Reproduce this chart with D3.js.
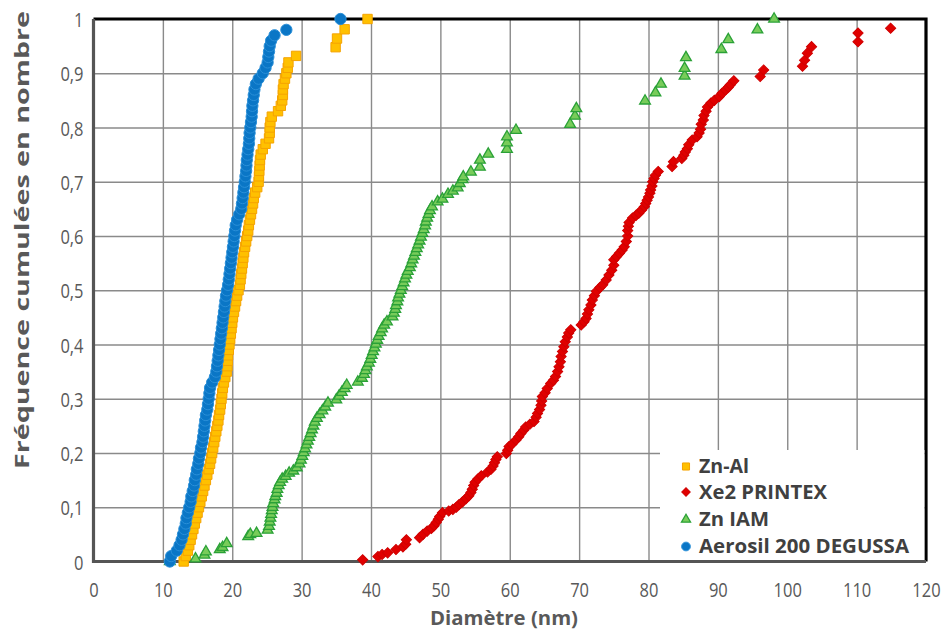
<!DOCTYPE html>
<html><head><meta charset="utf-8">
<script src="https://cdn.jsdelivr.net/npm/d3@7"></script>
<style>
html,body{margin:0;padding:0;background:#fff;}
svg{display:block;}
text{font-family:"Open Sans", Lato, sans-serif;}
</style></head>
<body>
<svg id="chart" width="947" height="633"></svg>
<script>
// ---- DATA: [diameter (nm), cumulative frequency] ----
const seriesNames = ["Zn-Al", "Xe2 PRINTEX", "Zn IAM", "Aerosil 200 DEGUSSA"];

const znAl = [[13.0,0],[13.3,0.01],[13.6,0.02],[13.8,0.03],[14.0,0.04],[14.2,0.05],[14.4,0.06],[14.6,0.07],[14.8,0.08],[15.0,0.09],[15.2,0.10],[15.4,0.11],[15.6,0.12],[15.8,0.13],[16.0,0.14],[16.2,0.15],[16.4,0.16],[16.6,0.17],[16.8,0.18],[16.95,0.19],[17.1,0.20],[17.25,0.21],[17.4,0.22],[17.55,0.23],[17.7,0.24],[17.85,0.25],[18.0,0.26],[18.1,0.27],[18.25,0.28],[18.35,0.29],[18.45,0.30],[18.55,0.31],[18.65,0.32],[18.8,0.33],[19.0,0.34],[19.2,0.35],[19.3,0.36],[19.35,0.37],[19.4,0.38],[19.5,0.39],[19.6,0.40],[19.7,0.41],[19.8,0.42],[19.9,0.43],[20.0,0.44],[20.1,0.45],[20.25,0.46],[20.4,0.47],[20.55,0.48],[20.7,0.49],[20.9,0.50],[21.1,0.51],[21.2,0.52],[21.3,0.53],[21.4,0.54],[21.5,0.55],[21.6,0.56],[21.7,0.57],[21.85,0.58],[22.0,0.59],[22.15,0.60],[22.3,0.61],[22.4,0.62],[22.55,0.63],[22.7,0.64],[22.85,0.65],[23.0,0.66],[23.1,0.67],[23.3,0.68],[23.6,0.69],[23.8,0.70],[23.85,0.71],[23.9,0.72],[23.95,0.73],[24.0,0.74],[24.1,0.75],[24.4,0.76],[24.8,0.77],[25.3,0.78],[25.4,0.79],[25.4,0.80],[25.5,0.81],[25.7,0.82],[26.6,0.83],[27.0,0.84],[27.2,0.85],[27.3,0.86],[27.3,0.87],[27.4,0.88],[27.6,0.89],[27.8,0.90],[28.0,0.91],[28.1,0.92],[29.2,0.932],[34.9,0.948],[35.1,0.964],[36.2,0.981],[39.5,1.0]];

const xe2 = [[38.8,0.003],[41.0,0.009],[41.6,0.013],[42.4,0.016],[43.6,0.022],[44.6,0.027],[45.0,0.032],[45.1,0.04],[47.0,0.044],[47.5,0.05],[48.1,0.056],[48.7,0.061],[49.1,0.066],[49.4,0.072],[49.7,0.078],[49.9,0.083],[50.3,0.09],[51.2,0.093],[51.8,0.096],[52.3,0.1],[52.7,0.105],[53.2,0.11],[53.7,0.116],[54.1,0.121],[54.4,0.127],[54.6,0.133],[54.8,0.14],[55.0,0.146],[55.4,0.152],[55.9,0.158],[56.8,0.165],[57.3,0.17],[57.6,0.176],[57.8,0.182],[58.0,0.188],[58.2,0.193],[59.5,0.199],[59.7,0.205],[59.9,0.212],[60.3,0.216],[60.9,0.224],[61.3,0.23],[61.6,0.236],[62.0,0.242],[62.3,0.248],[62.9,0.253],[63.5,0.258],[63.8,0.266],[64.0,0.273],[64.3,0.28],[64.5,0.288],[64.6,0.296],[64.7,0.304],[65.1,0.311],[65.4,0.319],[65.9,0.328],[66.3,0.334],[66.6,0.341],[66.9,0.35],[67.1,0.359],[67.3,0.368],[67.4,0.378],[67.6,0.387],[67.8,0.396],[68.0,0.405],[68.3,0.414],[68.5,0.421],[68.8,0.427],[70.3,0.436],[70.7,0.442],[71.0,0.448],[71.2,0.456],[71.4,0.464],[71.7,0.473],[71.9,0.482],[72.2,0.49],[72.5,0.498],[73.0,0.505],[73.4,0.51],[73.9,0.519],[74.3,0.528],[74.7,0.537],[75.0,0.546],[75.0,0.556],[75.4,0.562],[75.8,0.568],[76.2,0.574],[76.5,0.58],[76.8,0.59],[77.0,0.6],[77.0,0.61],[77.1,0.618],[77.2,0.625],[77.7,0.633],[78.2,0.638],[78.6,0.642],[79.0,0.648],[79.4,0.654],[79.6,0.66],[79.8,0.666],[80.0,0.672],[80.2,0.679],[80.3,0.685],[80.5,0.692],[80.6,0.7],[80.8,0.706],[81.0,0.712],[81.4,0.719],[83.4,0.728],[83.6,0.737],[84.8,0.743],[85.1,0.749],[85.3,0.755],[85.6,0.761],[85.8,0.768],[86.3,0.777],[87.0,0.783],[87.3,0.79],[87.5,0.797],[87.6,0.806],[87.9,0.814],[88.0,0.822],[88.3,0.83],[88.5,0.838],[89.0,0.845],[89.5,0.85],[90.2,0.857],[90.6,0.863],[91.1,0.869],[91.5,0.874],[91.8,0.879],[92.3,0.886],[96.1,0.894],[96.6,0.906],[102.2,0.913],[102.5,0.924],[102.9,0.937],[103.5,0.949],[110.2,0.958],[110.2,0.974],[114.9,0.983]];

const znIAM = [[11.0,0.0],[14.7,0.005],[16.0,0.012],[16.2,0.018],[18.2,0.022],[18.6,0.026],[19.2,0.033],[22.3,0.046],[22.6,0.05],[23.5,0.052],[25.1,0.058],[25.3,0.065],[25.4,0.073],[25.5,0.08],[25.6,0.087],[25.7,0.094],[25.8,0.10],[25.9,0.107],[26.1,0.114],[26.2,0.12],[26.4,0.126],[26.5,0.133],[26.7,0.14],[26.9,0.146],[27.2,0.152],[27.7,0.157],[28.2,0.163],[28.8,0.167],[29.3,0.173],[29.7,0.18],[29.9,0.187],[30.1,0.194],[30.3,0.201],[30.5,0.208],[30.7,0.215],[30.9,0.222],[31.1,0.229],[31.3,0.236],[31.5,0.243],[31.7,0.25],[31.9,0.257],[32.2,0.264],[32.6,0.271],[33.0,0.278],[33.4,0.285],[33.8,0.292],[35.0,0.298],[35.4,0.305],[35.8,0.312],[36.2,0.319],[36.5,0.325],[38.1,0.331],[38.7,0.338],[39.0,0.345],[39.2,0.352],[39.4,0.359],[39.7,0.366],[39.9,0.373],[40.1,0.38],[40.3,0.387],[40.5,0.394],[40.7,0.401],[40.9,0.408],[41.1,0.415],[41.4,0.422],[41.6,0.429],[41.9,0.436],[42.3,0.442],[43.1,0.451],[43.3,0.458],[43.5,0.465],[43.6,0.472],[43.8,0.479],[43.9,0.486],[44.1,0.493],[44.3,0.50],[44.5,0.507],[44.7,0.514],[44.9,0.521],[45.1,0.528],[45.3,0.535],[45.6,0.542],[45.8,0.549],[46.0,0.556],[46.2,0.563],[46.4,0.57],[46.6,0.577],[46.8,0.584],[47.0,0.591],[47.2,0.598],[47.4,0.605],[47.6,0.612],[47.8,0.619],[47.9,0.626],[48.1,0.633],[48.3,0.64],[48.5,0.647],[48.8,0.654],[49.6,0.663],[50.3,0.668],[51.1,0.677],[51.8,0.683],[52.5,0.689],[52.8,0.697],[53.2,0.704],[53.3,0.709],[54.4,0.718],[55.7,0.727],[55.7,0.74],[56.9,0.751],[59.6,0.76],[59.6,0.772],[59.6,0.783],[60.9,0.795],[68.7,0.806],[69.4,0.821],[69.6,0.835],[79.5,0.849],[81.0,0.864],[81.8,0.88],[85.2,0.895],[85.2,0.909],[85.4,0.929],[90.5,0.944],[91.5,0.962],[95.7,0.98],[98.1,1.0]];

const aerosil = [[11.0,0],[11.2,0.01],[12.0,0.02],[12.4,0.03],[12.7,0.04],[12.9,0.05],[13.1,0.06],[13.3,0.07],[13.4,0.08],[13.6,0.09],[13.8,0.10],[14.0,0.11],[14.1,0.12],[14.3,0.13],[14.5,0.14],[14.6,0.15],[14.8,0.16],[14.9,0.17],[15.1,0.18],[15.2,0.19],[15.4,0.20],[15.5,0.21],[15.7,0.22],[15.8,0.23],[15.9,0.24],[16.0,0.25],[16.1,0.26],[16.2,0.27],[16.4,0.28],[16.5,0.29],[16.6,0.30],[16.7,0.31],[16.8,0.32],[17.1,0.33],[17.5,0.34],[17.7,0.35],[17.8,0.36],[17.9,0.37],[18.0,0.38],[18.1,0.39],[18.2,0.40],[18.3,0.41],[18.4,0.42],[18.5,0.43],[18.6,0.44],[18.7,0.45],[18.8,0.46],[18.9,0.47],[19.0,0.48],[19.1,0.49],[19.25,0.50],[19.4,0.51],[19.5,0.52],[19.6,0.53],[19.7,0.54],[19.8,0.55],[19.9,0.56],[20.0,0.57],[20.1,0.58],[20.2,0.59],[20.3,0.60],[20.4,0.61],[20.5,0.62],[20.7,0.63],[21.0,0.64],[21.3,0.65],[21.4,0.66],[21.5,0.67],[21.6,0.68],[21.7,0.69],[21.8,0.70],[21.9,0.71],[22.0,0.72],[22.05,0.73],[22.1,0.74],[22.2,0.75],[22.3,0.76],[22.4,0.77],[22.45,0.78],[22.5,0.79],[22.6,0.80],[22.7,0.81],[22.8,0.82],[22.85,0.83],[22.9,0.84],[23.0,0.85],[23.1,0.86],[23.2,0.87],[23.4,0.88],[23.8,0.89],[24.4,0.90],[24.8,0.91],[25.1,0.92],[25.2,0.93],[25.3,0.94],[25.4,0.95],[25.6,0.96],[26.1,0.97],[27.8,0.98],[35.6,1.0]];

const xTicks = [0,10,20,30,40,50,60,70,80,90,100,110,120];
const yTicks = [0,0.1,0.2,0.3,0.4,0.5,0.6,0.7,0.8,0.9,1];
const xTitle = "Diamètre (nm)";
const yTitle = "Fréquence cumulées en nombre";

// ---- LAYOUT ----
const svg = d3.select("#chart");
const L = 93.5, R = 926, T = 19, B = 561.5;
const x = d3.scaleLinear().domain([0,120]).range([L,R]);
const y = d3.scaleLinear().domain([0,1]).range([B,T]);
const fr = d3.formatLocale({decimal:",", thousands:" ", grouping:[3], currency:["","€"]});
const fy = fr.format(".1~f");

const grid = svg.append("g");
grid.append("g").attr("transform",`translate(0,${B})`)
  .call(d3.axisBottom(x).tickValues(xTicks.slice(1,-1)).tickSize(-(B-T)).tickFormat(""))
  .call(g=>g.select(".domain").remove())
  .call(g=>g.selectAll("line").attr("stroke","#8a8a8a").attr("stroke-width",1.4));
grid.append("g").attr("transform",`translate(${L},0)`)
  .call(d3.axisLeft(y).tickValues(yTicks.slice(1,-1)).tickSize(-(R-L)).tickFormat(""))
  .call(g=>g.select(".domain").remove())
  .call(g=>g.selectAll("line").attr("stroke","#8a8a8a").attr("stroke-width",1.4));

svg.append("path").attr("d",`M${L},${T}H${R}V${B}`).attr("fill","none").attr("stroke","#000").attr("stroke-width",3.2);

// legend background (covers gridlines)
svg.append("rect").attr("x",660).attr("y",450).attr("width",R-1.6-660).attr("height",B-450).attr("fill","#fff");

svg.append("path").attr("d",`M${L},${T}V${B}H${R}`).attr("fill","none").attr("stroke","#555").attr("stroke-width",3.2);

// tick labels
const tickColor = "#595959";
const xg = svg.append("g").attr("transform",`translate(0,${B})`)
  .call(d3.axisBottom(x).tickValues(xTicks).tickSize(0).tickPadding(0).tickFormat(d=>d));
xg.select(".domain").remove();
xg.selectAll(".tick text").attr("fill",tickColor).attr("font-size",16.5).attr("y",0).attr("dy",0)
  .attr("transform","translate(0,35.5) scale(1,1.2)");
const yg = svg.append("g").attr("transform",`translate(${L},0)`)
  .call(d3.axisLeft(y).tickValues(yTicks).tickSize(0).tickPadding(0).tickFormat(fy));
yg.select(".domain").remove();
yg.selectAll(".tick text").attr("fill",tickColor).attr("font-size",16.5).attr("x",0).attr("dy",0)
  .attr("text-anchor","end")
  .attr("transform","translate(-10,7.5) scale(1,1.25)");

// axis titles
svg.append("text").attr("text-anchor","middle").attr("font-weight","bold").attr("fill",tickColor)
  .attr("font-size",18).attr("textLength",148).attr("lengthAdjust","spacingAndGlyphs")
  .attr("transform","translate(504,625) scale(1,1.1)").text(xTitle);
svg.append("text").attr("text-anchor","middle").attr("font-weight","bold").attr("fill",tickColor)
  .attr("font-size",19).attr("textLength",458).attr("lengthAdjust","spacingAndGlyphs")
  .attr("transform","translate(29,240) rotate(-90)").text(yTitle);

// ---- MARKERS ----
const styles = [
  {data:znAl, sym:d3.symbolSquare, size:88, rot:0, fill:"#FFC000", stroke:"#F5A300", sw:1},
  {data:xe2, sym:d3.symbolSquare, size:52, rot:45, fill:"#E00000", stroke:"#D00000", sw:1},
  {data:znIAM, sym:d3.symbolTriangle, size:50, rot:0, fill:"#78CC5A", stroke:"#2AA137", sw:1.3},
  {data:aerosil, sym:d3.symbolCircle, size:100, rot:0, fill:"#0A76C6", stroke:"#2A8FD8", sw:1}
];
styles.forEach(s=>{
  const p = d3.symbol(s.sym, s.size)();
  svg.append("g").selectAll("path").data(s.data).join("path")
    .attr("d",p)
    .attr("transform",d=>`translate(${x(d[0])},${y(d[1])}) rotate(${s.rot})`)
    .attr("fill",s.fill).attr("stroke",s.stroke).attr("stroke-width",s.sw);
});

// ---- LEGEND ----
const lg = svg.append("g");
const ly = [466.5, 492, 519.5, 546.5];
const lw = [50, 128, 70, 210];
styles.forEach((s,i)=>{
  const sz = [50,36,36,60][i];
  lg.append("path").attr("d",d3.symbol(s.sym, sz)())
    .attr("transform",`translate(686,${ly[i]}) rotate(${s.rot})`)
    .attr("fill",s.fill).attr("stroke",s.stroke).attr("stroke-width",s.sw);
  lg.append("text").attr("font-weight","bold").attr("fill","#404040").attr("font-size",17)
    .attr("textLength",lw[i]).attr("lengthAdjust","spacingAndGlyphs")
    .attr("transform",`translate(699,${ly[i]+6.5}) scale(1,1.15)`).text(seriesNames[i]);
});
</script>
</body></html>
